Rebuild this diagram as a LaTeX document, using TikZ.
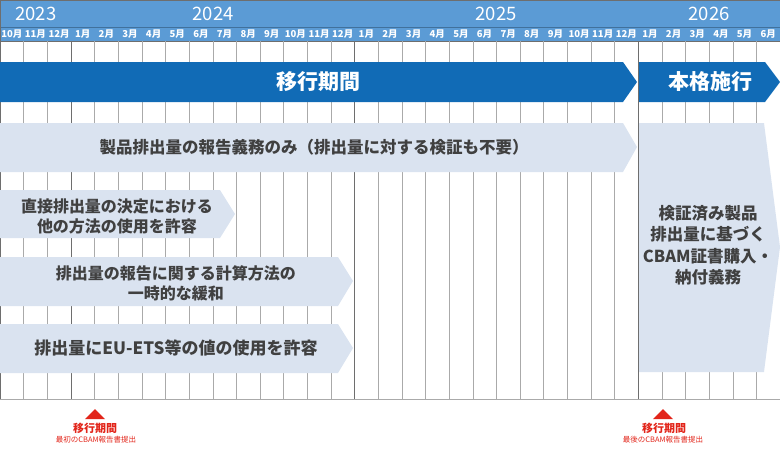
\documentclass[tikz,border=0pt]{standalone}
\usepackage{fontspec}
\setmainfont{Noto Sans CJK JP}
\usepackage{tikz}
\usetikzlibrary{calc}

\definecolor{hdblue}{RGB}{91,155,213}
\definecolor{hdline}{RGB}{65,113,156}
\definecolor{barblue}{RGB}{17,107,182}
\definecolor{barpale}{RGB}{218,227,240}
\definecolor{txtgray}{RGB}{64,64,64}
\definecolor{gridgray}{RGB}{170,170,170}
\definecolor{yeargray}{RGB}{110,110,110}
\definecolor{markred}{RGB}{226,37,26}

\newcommand{\colw}{23.636}

\begin{document}
\begin{tikzpicture}[x=1pt,y=-1pt,
        year/.style={text=white, font=\fontsize{18.5}{20}\selectfont},
        month/.style={text=white, font=\fontsize{9.5}{10}\selectfont\bfseries, inner sep=0pt},
        phase/.style={text=white, font=\fontsize{21}{24}\selectfont\bfseries},
        rule/.style={text=txtgray, font=\fontsize{16}{20}\selectfont\bfseries, align=center},
        milestone/.style={text=markred, font=\fontsize{11}{12}\selectfont\bfseries, inner sep=0pt},
        milesub/.style={text=markred, font=\fontsize{7.5}{8}\selectfont, inner sep=0pt}]
        \useasboundingbox (0,0) rectangle (780,451);

        % header
        \fill[hdblue] (0,0) rectangle (780,41);
        \draw[hdline, line width=1pt] (0,27) -- (780,27);
        \draw[yeargray, line width=1pt] (0,0.5) -- (780,0.5);
        \draw[yeargray] (0,41) -- (780,41);
        \draw (36,14) node(y23)[year]{2023};
        \draw (213,14) node(y24)[year]{2024};
        \draw (496,14) node(y25)[year]{2025};
        \draw (709,14) node(y26)[year]{2026};
        \foreach \m [count=\i from 0] in {10,11,12,1,2,3,4,5,6,7,8,9,10,11,12,1,2,3,4,5,6,7,8,9,10,11,12,1,2,3,4,5,6}
            \draw ({(\i+0.5)*\colw},34.5) node(m\i)[month]{\m{}月};

        % grid
        \foreach \i in {1,...,32}
            \draw[gridgray] ({\i*\colw},41) -- ({\i*\colw},399);
        \foreach \i in {3,15,27}
            \draw[yeargray] ({\i*\colw},41) -- ({\i*\colw},399);
        \draw[yeargray, line width=1pt] (0.5,0) -- (0.5,399);
        \draw[gridgray] (0,399) -- (780,399);

        % phases
        \fill[barblue] (0,62) -- (623,62) -- (637,82) -- (623,102) -- (0,102) -- cycle;
        \fill[barblue] (639,62) -- (765,62) -- (780,82) -- (765,102) -- (639,102) -- cycle;
        \draw (318,82) node(trans)[phase]{移行期間};
        \draw (710,82) node(full)[phase]{本格施行};

        % rules
        \fill[barpale] (0,123) -- (623,123) -- (637,147) -- (623,172) -- (0,172) -- cycle;
        \fill[barpale] (0,190) -- (220,190) -- (235,214) -- (220,238) -- (0,238) -- cycle;
        \fill[barpale] (0,257) -- (338,257) -- (353,281) -- (338,306) -- (0,306) -- cycle;
        \fill[barpale] (0,324) -- (338,324) -- (353,348) -- (338,373) -- (0,373) -- cycle;
        \fill[barpale] (639,123) -- (764,123) -- (780,247) -- (764,372) -- (639,372) -- cycle;
        \draw (314,147) node(r1)[rule, font=\fontsize{16.5}{20}\selectfont\bfseries]{製品排出量の報告義務のみ（排出量に対する検証も不要）};
        \draw (117,216) node(r2)[rule]{直接排出量の決定における\\他の方法の使用を許容};
        \draw (176,283) node(r3)[rule]{排出量の報告に関する計算方法の\\一時的な緩和};
        \draw (176,348) node(r4)[rule, font=\fontsize{17}{20}\selectfont\bfseries]{排出量にEU-ETS等の値の使用を許容};
        \draw (708,245) node(r5)[rule, text width=136pt, font=\fontsize{16.5}{21.5}\selectfont\bfseries]{検証済み製品\\排出量に基づく\\CBAM証書購入・\\納付義務};

        % milestones
        \fill[markred] (95,409) -- (105,419) -- (85,419) -- cycle;
        \draw (95,428) node(first)[milestone]{移行期間};
        \draw (96,440) node(firstsub)[milesub]{最初のCBAM報告書提出};
        \fill[markred] (663,409) -- (673,419) -- (653,419) -- cycle;
        \draw (664,428) node(last)[milestone]{移行期間};
        \draw (663,440) node(lastsub)[milesub]{最後のCBAM報告書提出};
    \end{tikzpicture}
\end{document}
